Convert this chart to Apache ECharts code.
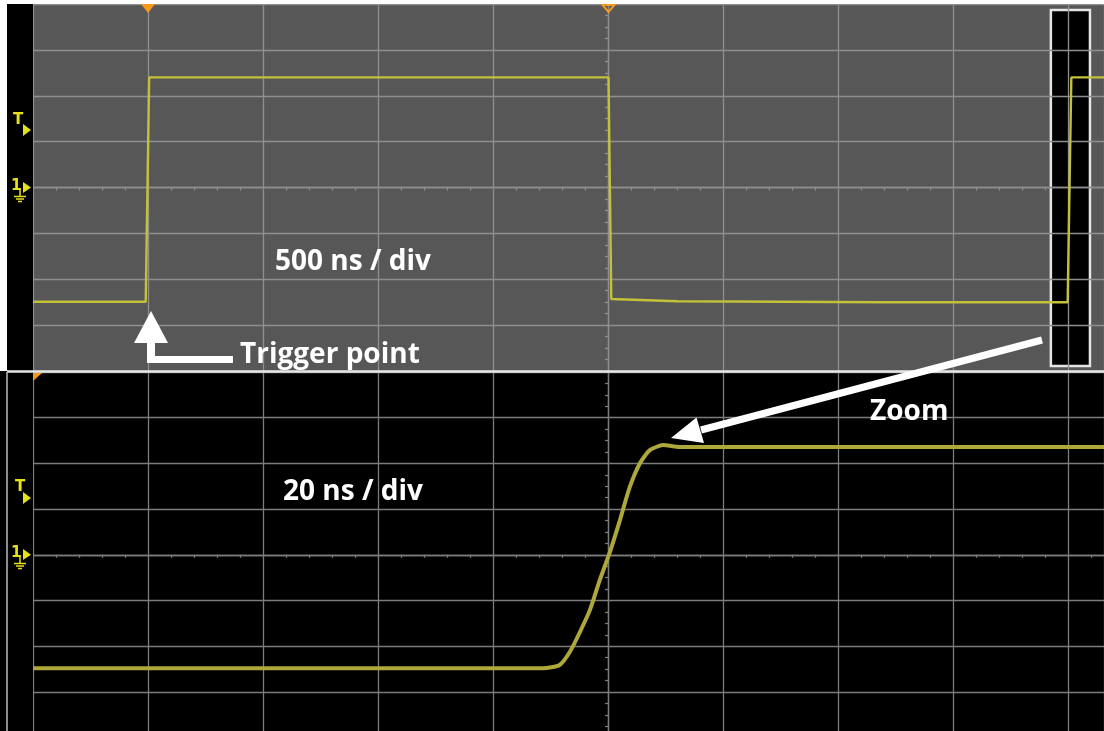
<!DOCTYPE html>
<html>
<head>
<meta charset="utf-8">
<script src="https://cdn.jsdelivr.net/npm/echarts@6/dist/echarts.min.js"></script>
<style>
html,body{margin:0;padding:0;background:#fff;}
#chart{width:1104px;height:731px;}
</style>
</head>
<body>
<div id="chart"></div>
<script>
// ---- data (time in ns, level in vertical divisions) ----
const topTimeNs  = [-500, -10, 5, 2002, 2014, 2300, 3200, 3998, 4014, 4500];
const topLevelDiv = [-2.49, -2.49, 2.40, 2.40, -2.43, -2.48, -2.50, -2.50, 2.40, 2.40];

const zoomTimeNs  = [3900, 3988.7, 3991.6, 3993.4, 3995.1, 3996.9, 3998.6, 4000.3, 4002.1, 4003.8, 4005.6, 4007.3, 4009.6, 4012.5, 4100];
const zoomLevelDiv = [-2.48, -2.48, -2.41, -2.12, -1.70, -1.20, -0.55, 0.04, 0.76, 1.48, 2.01, 2.29, 2.40, 2.36, 2.36];

const zoomWindowNs = [3925, 4095];

// visible part of the 10-division screen (the photo is cropped at the right)
const topRangeNs = [-500, 4156];
const zoomRangeNs = [3900, 4086.3];

const topScaleLabel = '500 ns / div';
const zoomScaleLabel = '20 ns / div';
const triggerLabel = 'Trigger point';
const zoomLabel = 'Zoom';

// ---- chart ----
const chart = echarts.init(document.getElementById('chart'), null, {renderer: 'canvas'});

function xAxisCfg(gridIndex, range, interval, lineColor) {
  return {
    type: 'value', gridIndex, min: range[0], max: range[1], interval, z: 1.5,
    axisLabel: {show: false},
    axisTick: {show: false},
    axisLine: {show: true, onZero: true, lineStyle: {color: lineColor, width: 1.3}},
    minorTick: {show: true, splitNumber: 5, length: 3, lineStyle: {color: lineColor, width: 1.3}},
    splitLine: {show: true, lineStyle: {color: lineColor, width: 1.3}}
  };
}
function yAxisCfg(gridIndex, lineColor, offset) {
  return {
    type: 'value', gridIndex, min: -4, max: 4, interval: 1, z: 1.5,
    position: 'left', offset,
    axisLabel: {show: false},
    axisTick: {show: false},
    axisLine: {show: true, onZero: false, lineStyle: {color: lineColor, width: 1.3}},
    minorTick: {show: true, splitNumber: 4, length: 3, lineStyle: {color: lineColor, width: 1.3}},
    splitLine: {show: true, lineStyle: {color: lineColor, width: 1.3}}
  };
}

const yellow = '#e6e21a';
const orange = '#f39a1e';
const labelFont = 'bold 28px "Open Sans"';

const option = {
  animation: false,
  backgroundColor: '#ffffff',
  grid: [
    {left: 33, top: 4, right: 0, height: 367, show: true, backgroundColor: '#575757', borderWidth: 0, outerBoundsMode: 'none'},
    {left: 33, top: 372, right: 0, height: 365.6, show: true, backgroundColor: '#000000', borderWidth: 0, outerBoundsMode: 'none'}
  ],
  xAxis: [
    xAxisCfg(0, topRangeNs, 500, '#8f8f8f'),
    xAxisCfg(1, zoomRangeNs, 20, '#7c7c7c')
  ],
  yAxis: [
    yAxisCfg(0, '#8f8f8f', -575),
    yAxisCfg(1, '#7c7c7c', -575)
  ],
  series: [
    {
      type: 'custom', xAxisIndex: 0, yAxisIndex: 0, z: 1,
      data: [[zoomWindowNs[0], zoomWindowNs[1], 0]],
      encode: {x: [0, 1], y: 2},
      renderItem: function (params, api) {
        const p0 = api.coord([api.value(0), 3.87]);
        const p1 = api.coord([api.value(1), -3.89]);
        return {
          type: 'rect',
          shape: {x: p0[0], y: p0[1], width: p1[0] - p0[0], height: p1[1] - p0[1]},
          style: {fill: '#000000', stroke: '#e4e4e4', lineWidth: 2.5}
        };
      }
    },
    {
      type: 'line', xAxisIndex: 0, yAxisIndex: 0, z: 2,
      data: topTimeNs.map((t, i) => [t, topLevelDiv[i]]),
      showSymbol: false,
      lineStyle: {color: '#c4c03a', width: 2.4}
    },
    {
      type: 'line', xAxisIndex: 1, yAxisIndex: 1, z: 2,
      data: zoomTimeNs.map((t, i) => [t, zoomLevelDiv[i]]),
      showSymbol: false, smooth: 0.2,
      lineStyle: {color: '#aea83a', width: 4}
    }
  ],
  graphic: [
    // frame pieces
    {type: 'rect', z: 50, shape: {x: 0, y: 0, width: 33, height: 731}, style: {fill: '#000'}},
    {type: 'rect', z: 51, shape: {x: 0, y: 0, width: 7, height: 371}, style: {fill: '#fff'}},
    {type: 'rect', z: 51, shape: {x: 0, y: 0, width: 1104, height: 4}, style: {fill: '#fff'}},
    {type: 'line', z: 52, shape: {x1: 7, y1: 371.5, x2: 1104, y2: 371.5}, style: {stroke: '#e6e6e6', lineWidth: 2.5}},
    {type: 'line', z: 52, shape: {x1: 7, y1: 372, x2: 7, y2: 731}, style: {stroke: '#bdbdbd', lineWidth: 1.5}},
    // trigger markers on top edge
    {type: 'polygon', z: 53, shape: {points: [[141, 4], [155, 4], [148, 13]]}, style: {fill: orange}},
    {type: 'polygon', z: 53, shape: {points: [[602.5, 5], [614.5, 5], [608.5, 12]]}, style: {fill: 'none', stroke: orange, lineWidth: 2}},
    {type: 'polygon', z: 53, shape: {points: [[33, 373], [42, 373], [33, 381]]}, style: {fill: orange}},
    // channel markers, top panel
    {type: 'text', z: 53, style: {x: 13, y: 113, text: 'T', fill: yellow, font: 'bold 15px "DejaVu Sans"'}},
    {type: 'polygon', z: 53, shape: {points: [[23, 124], [31, 130], [23, 136]]}, style: {fill: yellow}},
    {type: 'text', z: 53, style: {x: 11, y: 179, text: '1', fill: yellow, font: 'bold 15px "DejaVu Sans"'}},
    {type: 'polygon', z: 53, shape: {points: [[23, 182], [31, 187.5], [23, 193]]}, style: {fill: yellow}},
    {type: 'line', z: 53, shape: {x1: 20, y1: 188, x2: 20, y2: 196}, style: {stroke: yellow, lineWidth: 1.5}},
    {type: 'line', z: 53, shape: {x1: 14, y1: 196.5, x2: 26, y2: 196.5}, style: {stroke: yellow, lineWidth: 1.5}},
    {type: 'line', z: 53, shape: {x1: 16, y1: 199, x2: 24, y2: 199}, style: {stroke: yellow, lineWidth: 1.5}},
    {type: 'line', z: 53, shape: {x1: 18, y1: 201.5, x2: 22, y2: 201.5}, style: {stroke: yellow, lineWidth: 1.5}},
    // channel markers, bottom panel
    {type: 'text', z: 53, style: {x: 15, y: 480, text: 'T', fill: yellow, font: 'bold 15px "DejaVu Sans"'}},
    {type: 'polygon', z: 53, shape: {points: [[23, 492], [31, 498], [23, 504]]}, style: {fill: yellow}},
    {type: 'text', z: 53, style: {x: 11, y: 546, text: '1', fill: yellow, font: 'bold 15px "DejaVu Sans"'}},
    {type: 'polygon', z: 53, shape: {points: [[23, 549], [31, 554.8], [23, 560]]}, style: {fill: yellow}},
    {type: 'line', z: 53, shape: {x1: 20, y1: 555, x2: 20, y2: 563}, style: {stroke: yellow, lineWidth: 1.5}},
    {type: 'line', z: 53, shape: {x1: 14, y1: 563.5, x2: 26, y2: 563.5}, style: {stroke: yellow, lineWidth: 1.5}},
    {type: 'line', z: 53, shape: {x1: 16, y1: 566, x2: 24, y2: 566}, style: {stroke: yellow, lineWidth: 1.5}},
    {type: 'line', z: 53, shape: {x1: 18, y1: 568.5, x2: 22, y2: 568.5}, style: {stroke: yellow, lineWidth: 1.5}},
    // annotation arrows
    {type: 'polygon', z: 60, shape: {points: [[151, 311], [168, 343], [134, 343]]}, style: {fill: '#fff'}},
    {type: 'rect', z: 60, shape: {x: 147, y: 342, width: 8, height: 21}, style: {fill: '#fff'}},
    {type: 'rect', z: 60, shape: {x: 147, y: 356, width: 86, height: 7}, style: {fill: '#fff'}},
    {type: 'line', z: 60, shape: {x1: 701, y1: 430, x2: 1042, y2: 340}, style: {stroke: '#fff', lineWidth: 7}},
    {type: 'polygon', z: 60, shape: {points: [[671, 438], [696.5, 417.5], [704, 443]]}, style: {fill: '#fff'}},
    // annotation texts
    {type: 'text', z: 61, style: {x: 275, y: 262, text: topScaleLabel, fill: '#fff', font: labelFont, verticalAlign: 'middle'}},
    {type: 'text', z: 61, style: {x: 240, y: 355, text: triggerLabel, fill: '#fff', font: labelFont, verticalAlign: 'middle'}},
    {type: 'text', z: 61, style: {x: 870, y: 412, text: zoomLabel, fill: '#fff', font: labelFont, verticalAlign: 'middle'}},
    {type: 'text', z: 61, style: {x: 283, y: 492, text: zoomScaleLabel, fill: '#fff', font: labelFont, verticalAlign: 'middle'}}
  ]
};
chart.setOption(option);
</script>
</body>
</html>
